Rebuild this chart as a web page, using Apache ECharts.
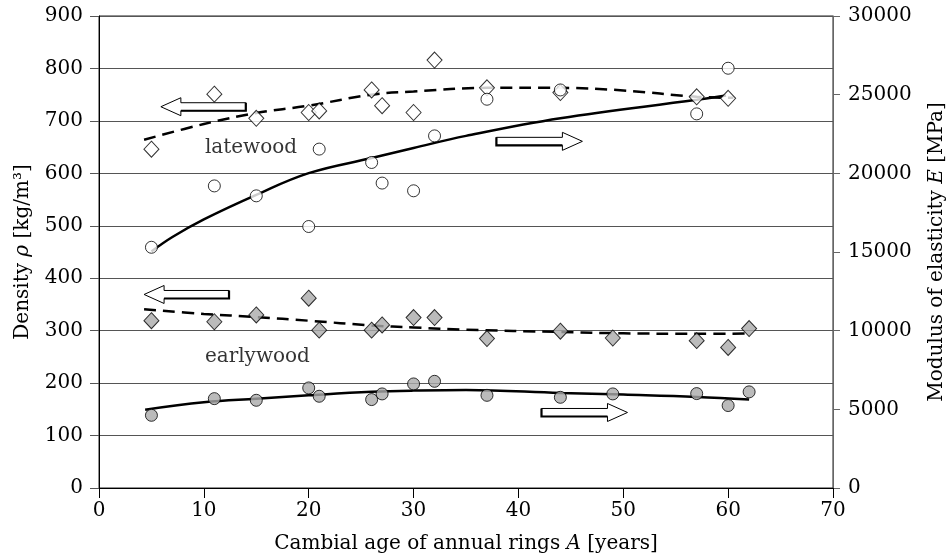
<!DOCTYPE html>
<html>
<head>
<meta charset="utf-8">
<script src="https://cdn.jsdelivr.net/npm/echarts@6/dist/echarts.min.js"></script>
<style>
  html, body { margin: 0; padding: 0; background: #fff; }
  #chart { width: 950px; height: 559px; }
</style>
</head>
<body>
<div id="chart"></div>
<script>
// cambial age of the sampled rings [years]
const ageLate = [5, 11, 15, 20, 21, 26, 27, 30, 32, 37, 44, 57, 60]
const ageEarly = [5, 11, 15, 20, 21, 26, 27, 30, 32, 37, 44, 49, 57, 60, 62]

// latewood: density (diamonds) and modulus of elasticity (circles)
const lateDensity = [646, 751, 705, 716, 719, 759, 729, 716, 816, 763, 754, 746, 743]
const lateModulus = [15300, 19200, 18570, 16620, 21540, 20690, 19380, 18890, 22380, 24710, 25300, 23780, 26680]

// earlywood: density and modulus
const earlyDensity = [319, 317, 330, 362, 301, 301, 311, 325, 325, 285, 299, 286, 281, 268, 304]
const earlyModulus = [4620, 5680, 5575, 6360, 5830, 5620, 5980, 6615, 6780, 5890, 5765, 5980, 6000, 5240, 6110]

// fitted trend curves
const fitLateDensityX = [4.3, 10, 15, 20, 26, 30, 37, 44, 50, 57, 60.5]
const fitLateDensityY = [664, 694, 715, 729, 750, 756, 763, 763, 758, 746, 744]
const fitLateModulusX = [5, 7, 10, 15, 20, 26, 30, 35, 44, 57, 59.8]
const fitLateModulusY = [15030, 15950, 17070, 18630, 20010, 20970, 21610, 22380, 23500, 24670, 24940]
const fitEarlyDensityX = [4.3, 10, 15, 20, 26, 30, 35, 44, 50, 57, 61.9]
const fitEarlyDensityY = [341, 332, 326, 319, 310, 306, 302, 297.5, 295, 294, 294.5]
const fitEarlyModulusX = [4.4, 10, 15, 20, 26, 30, 35, 44, 50, 57, 62]
const fitEarlyModulusY = [4980, 5450, 5680, 5890, 6110, 6190, 6235, 6045, 5935, 5790, 5620]

// hollow arrows: [head age, tail age, density level]
const arrows = [
  [5.9, 14.0, 727],
  [46.1, 37.9, 661],
  [4.3, 12.4, 369],
  [50.4, 42.2, 144]
]
// text labels: [age, density, text]
const labels = [
  [10.1, 648, 'latewood'],
  [10.1, 250, 'earlywood']
]

const FONT = 'DejaVu Serif'
const GRAY = '#aaaaaa'

const pairs = (xs, ys) => xs.map((x, i) => [x, ys[i]])
const nameRich = {
  t: { fontFamily: FONT, fontSize: 20, color: '#000' },
  i: { fontFamily: FONT, fontSize: 20, fontStyle: 'italic', color: '#000' }
}

const chart = echarts.init(document.getElementById('chart'))

chart.setOption({
  animation: false,
  grid: {
    left: 99, right: 117, top: 16, bottom: 71,
    containLabel: false, outerBoundsMode: 'none',
    show: true, borderColor: '#222', borderWidth: 1
  },
  xAxis: {
    type: 'value', min: 0, max: 70, interval: 10,
    name: '{t|Cambial age of annual rings }{i|A}{t| [years]}',
    nameLocation: 'middle', nameGap: 46,
    nameTextStyle: { rich: nameRich },
    axisLine: { lineStyle: { color: '#000' } },
    axisTick: { show: true, inside: false, length: 10, lineStyle: { color: '#000' } },
    axisLabel: { fontFamily: FONT, fontSize: 20, color: '#000', margin: 13 },
    splitLine: { show: false }
  },
  yAxis: [
    {
      type: 'value', min: 0, max: 900, interval: 100,
      name: '{t|Density }{i|ρ}{t| [kg/m³]}',
      nameLocation: 'middle', nameGap: 66,
      nameTextStyle: { rich: nameRich },
      axisLine: { show: true, lineStyle: { color: '#000' } },
      axisTick: { show: true, length: 9, lineStyle: { color: '#555' } },
      axisLabel: { fontFamily: FONT, fontSize: 20, color: '#000', margin: 16 },
      splitLine: { show: true, lineStyle: { color: '#555', width: 1 } }
    },
    {
      type: 'value', min: 0, max: 30000, interval: 5000,
      name: '{t|Modulus of elasticity }{i|E}{t| [MPa]}',
      nameLocation: 'middle', nameGap: 94,
      nameTextStyle: { rich: nameRich },
      axisLine: { show: true, lineStyle: { color: '#666' } },
      axisTick: { show: true, length: 7, lineStyle: { color: '#666' } },
      axisLabel: { fontFamily: FONT, fontSize: 20, color: '#000', margin: 15, formatter: v => String(v) },
      splitLine: { show: false }
    }
  ],
  series: [
    // trend curves
    { type: 'line', yAxisIndex: 0, data: pairs(fitLateDensityX, fitLateDensityY), smooth: 0.4, symbol: 'none',
      lineStyle: { color: '#000', width: 2.5, type: [12, 7] }, z: 3 },
    { type: 'line', yAxisIndex: 1, data: pairs(fitLateModulusX, fitLateModulusY), smooth: 0.4, symbol: 'none',
      lineStyle: { color: '#000', width: 2.5 }, z: 3 },
    { type: 'line', yAxisIndex: 0, data: pairs(fitEarlyDensityX, fitEarlyDensityY), smooth: 0.4, symbol: 'none',
      lineStyle: { color: '#000', width: 2.5, type: [12, 7] }, z: 3 },
    { type: 'line', yAxisIndex: 1, data: pairs(fitEarlyModulusX, fitEarlyModulusY), smooth: 0.4, symbol: 'none',
      lineStyle: { color: '#000', width: 2.5 }, z: 3 },

    // measured points
    { type: 'scatter', yAxisIndex: 0, data: pairs(ageLate, lateDensity), symbol: 'diamond', symbolSize: [15, 16],
      itemStyle: { color: '#fff', borderColor: '#000', borderWidth: 1 }, z: 4 },
    { type: 'scatter', yAxisIndex: 1, data: pairs(ageLate, lateModulus), symbol: 'circle', symbolSize: 12,
      itemStyle: { color: '#fff', borderColor: '#000', borderWidth: 1 }, z: 4 },
    { type: 'scatter', yAxisIndex: 0, data: pairs(ageEarly, earlyDensity), symbol: 'diamond', symbolSize: [15, 16],
      itemStyle: { color: GRAY, borderColor: '#000', borderWidth: 1 }, z: 4 },
    { type: 'scatter', yAxisIndex: 1, data: pairs(ageEarly, earlyModulus), symbol: 'circle', symbolSize: 12,
      itemStyle: { color: GRAY, borderColor: '#000', borderWidth: 1 }, z: 4 },

    // arrows pointing to the axis each curve belongs to
    {
      type: 'custom', yAxisIndex: 0, data: arrows, z: 5, silent: true,
      renderItem: (params, api) => {
        const head = api.coord([api.value(0), api.value(2)])
        const tail = api.coord([api.value(1), api.value(2)])
        const dir = tail[0] > head[0] ? 1 : -1
        const hx = head[0], cy = head[1], tx = tail[0]
        const bx = hx + dir * 20
        return {
          type: 'group',
          children: [
            {
              type: 'polygon',
              shape: { points: [[hx, cy], [bx, cy - 9], [bx, cy - 4], [tx, cy - 4], [tx, cy + 4], [bx, cy + 4], [bx, cy + 9]] },
              style: { fill: '#fff', stroke: '#000', lineWidth: 1 }
            },
            {
              type: 'polyline',
              shape: { points: [[bx, cy + 4], [tx, cy + 4], [tx, cy - 4]] },
              style: { fill: null, stroke: '#000', lineWidth: 2.2 }
            }
          ]
        }
      }
    },

    // curve labels
    {
      type: 'scatter', yAxisIndex: 0, symbolSize: 0, z: 5, silent: true,
      data: labels.map(l => ({ value: [l[0], l[1]], name: l[2] })),
      label: { show: true, position: 'right', distance: 0, formatter: p => p.name,
        fontFamily: FONT, fontSize: 20, color: '#000' }
    }
  ]
})
</script>
</body>
</html>
